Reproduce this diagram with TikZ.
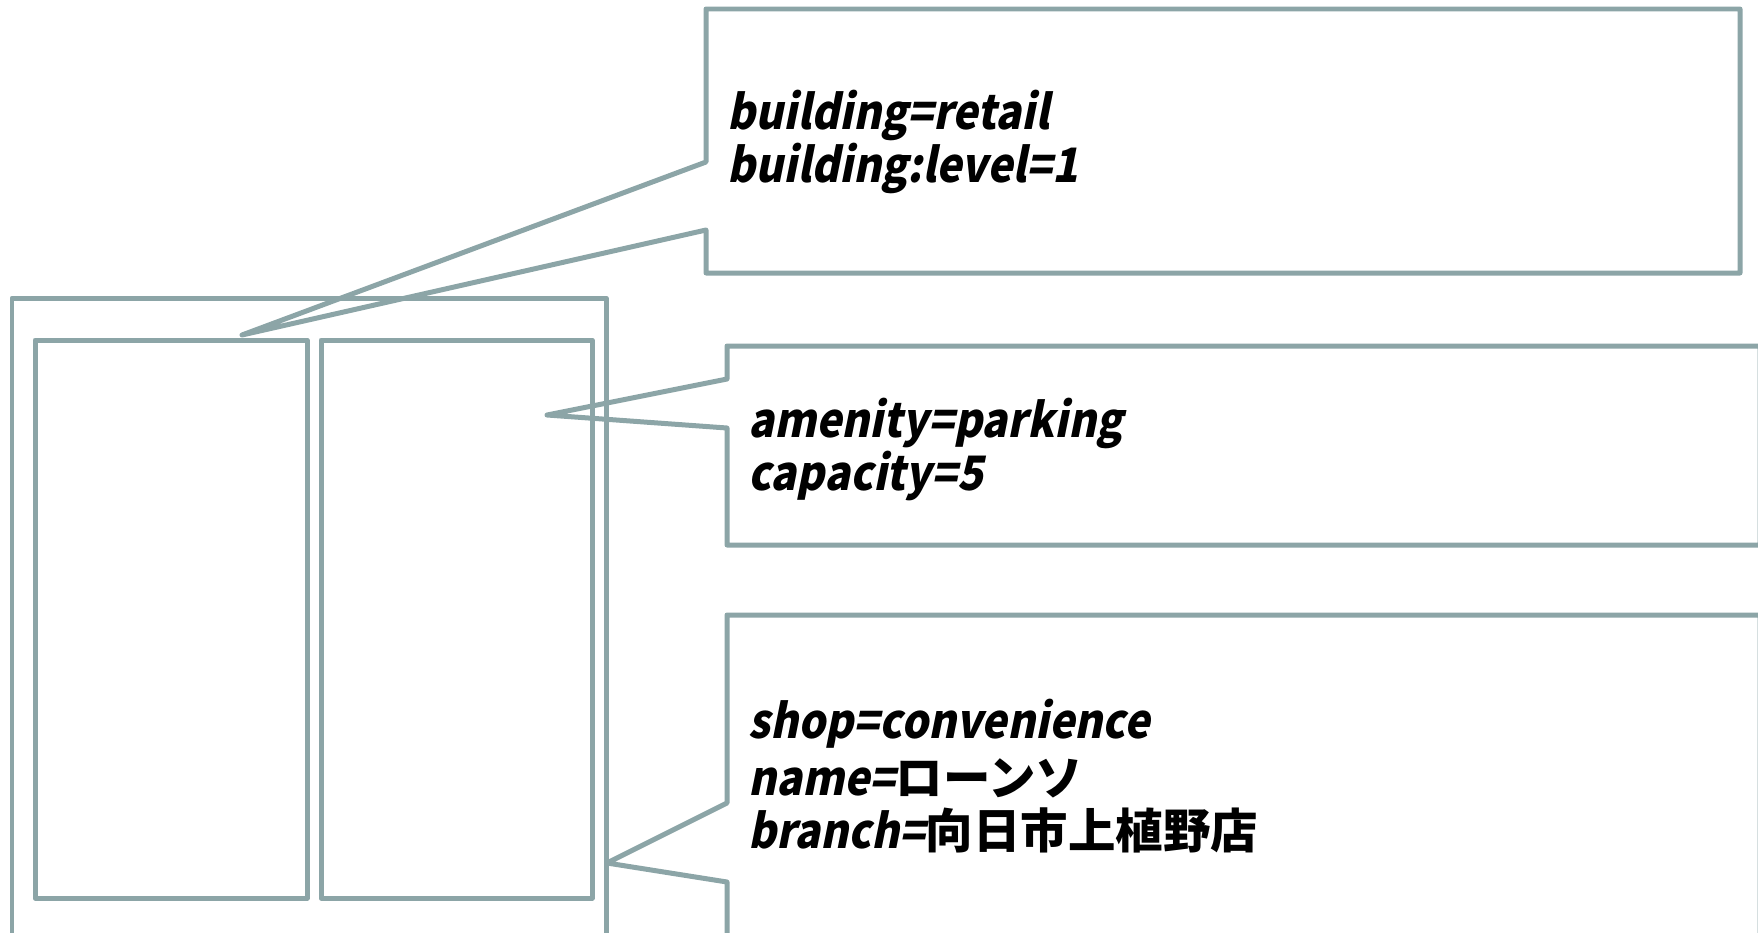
\documentclass[tikz,border=0pt]{standalone}
\usepackage{fontspec}
\usetikzlibrary{positioning}
\definecolor{mygrey}{HTML}{8CA5A7}
\newfontfamily\tagfont[FakeSlant=0.2,FakeStretch=0.9]{Noto Sans CJK JP}
\newfontfamily\jpfont{Noto Sans CJK JP}
\tikzset{
    outline/.style={draw=mygrey, line width=0.1cm, line join=round},
    tagline/.style={anchor=base west, inner sep=0pt,
        font=\tagfont\bfseries\fontsize{27}{32}\selectfont}
}

\begin{document}
\begin{tikzpicture}[x=0.02cm, y=-0.02cm]

    \useasboundingbox (0,0) rectangle (1758,933);

    % 建物の外形と内部の区画
    \draw[outline] (12,960) -- (12,298) -- (606,298) -- (606,960);
    \draw[outline] (35,340) rectangle (307,898);
    \draw[outline] (321,340) rectangle (592,898);

    % 吹き出しの先端
    \coordinate (roof) at (242,335);
    \coordinate (park) at (547,415);
    \coordinate (shop) at (607,863);

    % 吹き出し
    \draw[outline] (706,9) -- (1740,9) -- (1740,273) -- (706,273)
        -- (706,230) -- (roof) -- (706,162) -- cycle;
    \draw[outline] (727,346) -- (1760,346) -- (1760,545) -- (727,545)
        -- (727,428) -- (park) -- (727,379) -- cycle;
    \draw[outline] (727,960) -- (727,882) -- (shop) -- (727,803)
        -- (727,615) -- (1760,615) -- (1760,960);

    % タグ
    \node[tagline] (bldg) at (727,129) {building=retail};
    \node[tagline] (level) at (727,182) {building:level=1};

    \node[tagline] (amen) at (748,437) {amenity=parking};
    \node[tagline] (cap) at (748,490) {capacity=5};

    \node[tagline] (conv) at (748,738) {shop=convenience};
    \node[tagline] (name) at (748,795) {name={\jpfont ローンソ}};
    \node[tagline] (branch) at (748,848) {branch={\jpfont 向日市上植野店}};

\end{tikzpicture}
\end{document}
